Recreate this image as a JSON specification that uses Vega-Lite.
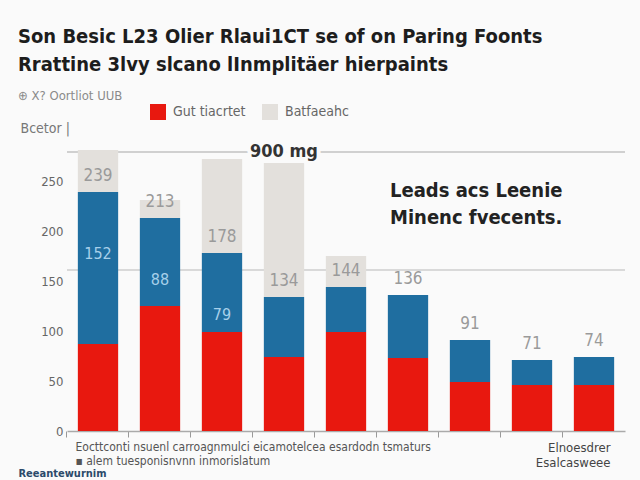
{
  "$schema": "https://vega.github.io/schema/vega-lite/v6.json",
  "width": 558,
  "height": 300,
  "autosize": "none",
  "padding": {"left": 67, "top": 131, "right": 15, "bottom": 49},
  "background": "#fafafa",
  "config": {
    "font": "Liberation Sans Narrow, DejaVu Sans Condensed, sans-serif",
    "view": {"stroke": null}
  },
  "title": {
    "text": ["Son Besic L23 Olier Rlaui1CT se of on Paring Foonts", "Rrattine 3lvy slcano lInmplitäer hierpaints"],
    "subtitle": "⊕ X? Oortliot UUB",
    "anchor": "start",
    "frame": "group",
    "dx": -49,
    "offset": 1,
    "fontSize": 20,
    "fontWeight": "bold",
    "color": "#1d1d1d",
    "lineHeight": 28,
    "subtitleFontSize": 13,
    "subtitleColor": "#8a8a8a",
    "subtitlePadding": 15
  },
  "data": {
    "values": [
      {"cat": "A", "low": 87, "mid": 152, "top": 42},
      {"cat": "B", "low": 125, "mid": 88, "top": 18},
      {"cat": "C", "low": 99, "mid": 79, "top": 94},
      {"cat": "D", "low": 74, "mid": 60, "top": 134},
      {"cat": "E", "low": 99, "mid": 45, "top": 31},
      {"cat": "F", "low": 73, "mid": 63, "top": 0},
      {"cat": "G", "low": 49, "mid": 42, "top": 0},
      {"cat": "H", "low": 46, "mid": 25, "top": 0},
      {"cat": "I", "low": 46, "mid": 28, "top": 0}
    ]
  },
  "resolve": {"axis": {"x": "independent"}},
  "layer": [
    {
      "mark": {"type": "rule", "color": "#d9d9d9", "strokeWidth": 2},
      "encoding": {"y": {"datum": 161, "type": "quantitative"}}
    },
    {
      "mark": {"type": "rule", "color": "#d0d0d0", "strokeWidth": 2},
      "encoding": {"y": {"datum": 279, "type": "quantitative"}}
    },
    {
      "transform": [{"fold": ["low", "mid", "top"], "as": ["series", "value"]}],
      "mark": {"type": "bar"},
      "encoding": {
        "x": {
          "field": "cat",
          "type": "nominal",
          "scale": {"paddingInner": 0.35, "paddingOuter": 0.175},
          "axis": {
            "title": ["Eocttconti nsuenl carroagnmulci eicamotelcea esardodn tsmaturs", "\u00a0\u00a0\u00a0\u00a0▪ alem tuesponisnvnn inmorislatum"],
            "labels": false,
            "bandPosition": -0.27,
            "tickSize": 6,
            "tickColor": "#999999",
            "domainColor": "#aaaaaa",
            "domainWidth": 1.5,
            "titleX": 8,
            "titleY": 10,
            "titleAlign": "left",
            "titleBaseline": "top",
            "titleFontSize": 12,
            "titleFontWeight": "normal",
            "titleColor": "#555555",
            "titleLineHeight": 14
          }
        },
        "y": {
          "field": "value",
          "type": "quantitative",
          "stack": "zero",
          "scale": {"domain": [0, 300], "nice": false},
          "axis": {
            "values": [0, 50, 100, 150, 200, 250],
            "title": "Bcetor |",
            "titleAngle": 0,
            "titleX": -47,
            "titleY": -3,
            "titleAlign": "left",
            "titleBaseline": "middle",
            "titleFontSize": 14,
            "titleFontWeight": "normal",
            "titleColor": "#777777",
            "domain": false,
            "ticks": false,
            "grid": false,
            "labelFontSize": 13,
            "labelColor": "#666666",
            "labelPadding": 4
          }
        },
        "color": {
          "field": "series",
          "type": "nominal",
          "scale": {"domain": ["low", "mid", "top"], "range": ["#e8180f", "#1f6ea0", "#e3e0dc"]},
          "legend": {
            "title": null,
            "orient": "none",
            "legendX": 83,
            "legendY": -27,
            "direction": "horizontal",
            "values": ["low", "top"],
            "labelExpr": "datum.value == 'low' ? 'Gut tiacrtet' : 'Batfaeahc'",
            "symbolType": "square",
            "symbolSize": 256,
            "symbolStrokeWidth": 0,
            "labelFontSize": 14,
            "labelColor": "#666666",
            "labelOffset": 7,
            "columnPadding": 16
          }
        },
        "order": {"field": "series", "sort": "ascending"}
      }
    },
    {
      "transform": [{"fold": ["low", "mid"], "as": ["series", "value"]}],
      "mark": {"type": "text", "dy": -16, "fontSize": 17, "color": "#9a9a9a"},
      "encoding": {
        "x": {"field": "cat", "type": "nominal", "axis": null},
        "y": {"aggregate": "sum", "field": "value", "type": "quantitative"},
        "text": {"aggregate": "sum", "field": "value", "type": "quantitative"}
      }
    },
    {
      "transform": [{"filter": "datum.mid >= 75"}, {"fold": ["low", "mid"], "as": ["series", "value"]}],
      "mark": {"type": "text", "dy": 62, "fontSize": 16, "color": "#a7d0ea"},
      "encoding": {
        "x": {
          "field": "cat",
          "type": "nominal",
          "axis": {
            "orient": "bottom",
            "title": "Reeantewurnim",
            "labels": false,
            "ticks": false,
            "domain": false,
            "titleX": -49,
            "titleY": 36,
            "titleAlign": "left",
            "titleBaseline": "top",
            "titleFontSize": 11,
            "titleFontWeight": "bold",
            "titleColor": "#2c4a6a"
          }
        },
        "y": {"aggregate": "sum", "field": "value", "type": "quantitative"},
        "text": {"aggregate": "max", "field": "mid", "type": "quantitative"}
      }
    },
    {
      "data": {"values": [{"note": "Leads acs Leenie\nMinenc fvecents."}]},
      "mark": {"type": "text", "align": "left", "baseline": "top", "dx": -18, "fontSize": 20, "fontWeight": "bold", "color": "#222222", "lineBreak": "\n", "lineHeight": 27},
      "encoding": {
        "x": {
          "datum": "F",
          "type": "nominal",
          "axis": {
            "orient": "bottom",
            "title": ["Elnoesdrer", "Esalcasweee"],
            "labels": false,
            "ticks": false,
            "domain": false,
            "titleX": 543,
            "titleY": 10,
            "titleAlign": "right",
            "titleBaseline": "top",
            "titleFontSize": 13,
            "titleFontWeight": "normal",
            "titleColor": "#444444",
            "titleLineHeight": 15
          }
        },
        "y": {"datum": 250, "type": "quantitative"},
        "text": {"field": "note"}
      }
    },
    {
      "data": {"values": [{"label": "900 mg"}]},
      "encoding": {
        "x": {"datum": "D", "type": "nominal", "axis": null},
        "y": {"datum": 279, "type": "quantitative"},
        "text": {"field": "label"}
      },
      "layer": [
        {"mark": {"type": "text", "fontSize": 18, "fontWeight": "bold", "fill": "#fafafa", "stroke": "#fafafa", "strokeWidth": 8}},
        {"mark": {"type": "text", "fontSize": 18, "fontWeight": "bold", "color": "#333333"}}
      ]
    }
  ]
}
